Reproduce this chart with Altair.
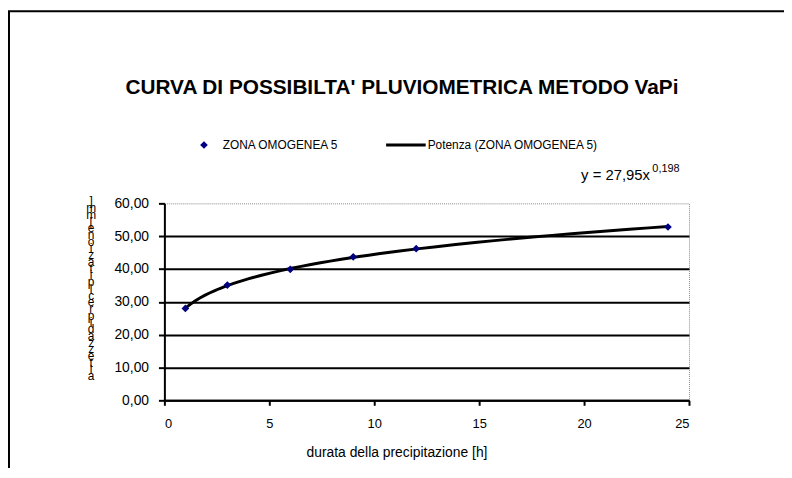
import altair as alt
import pandas as pd

# ---- data ----
durata = [1, 3, 6, 9, 12, 24]
altezza = [28.0, 35.1, 39.9, 43.7, 46.2, 52.8]
serie = "ZONA OMOGENEA 5"
trend_name = "Potenza (ZONA OMOGENEA 5)"
equation = "y = 27,95x"
equation_exp = "0,198"
title_text = "CURVA DI POSSIBILTA' PLUVIOMETRICA METODO VaPi"
x_title = "durata della  precipitazione [h]"
y_title = "altezza di precipitazione [mm]"
x_ticks = [0, 5, 10, 15, 20, 25]
y_ticks = [0, 10, 20, 30, 40, 50, 60]

df = pd.DataFrame({"x": durata, "y": altezza})

W, H = 530, 199
FONT = "Liberation Sans"

xs = alt.Scale(domain=[0, 25], nice=False)
ys = alt.Scale(domain=[0, 60], nice=False)

x_axis = alt.Axis(values=x_ticks, title=None, grid=False, domainColor="black",
                  domainWidth=2, tickColor="black", tickWidth=2, tickSize=5,
                  labelFont=FONT, labelFontSize=13, labelColor="black",
                  labelPadding=12, labelOverlap=False)
y_axis = alt.Axis(values=y_ticks, title=None, grid=True, gridColor="black",
                  gridWidth=2,
                  gridOpacity={"condition": {"test": "datum.value >= 60", "value": 0}, "value": 1},
                  domainColor="black", domainWidth=2, tickColor="black",
                  tickWidth=2, tickSize=6, labelFont=FONT, labelFontSize=14,
                  labelColor="black", labelPadding=10, labelOverlap=False,
                  labelExpr="replace(format(datum.value, '.2f'), '.', ',')")

X = alt.X("x:Q", scale=xs, axis=x_axis)
Y = alt.Y("y:Q", scale=ys, axis=y_axis)

base = alt.Chart(df)

trend = base.transform_regression("x", "y", method="pow", extent=[1, 24]).mark_line(
    color="black", strokeWidth=3
).encode(x=X, y=Y)

points = base.mark_point(shape="diamond", filled=True, color="#000080", size=60, opacity=1).encode(
    x=X, y=Y
)

one = pd.DataFrame({"a": [0]})

def label(text, x, y, size=11, weight="normal", align="left", baseline="middle"):
    return alt.Chart(one).mark_text(
        text=text, font=FONT, fontSize=size, fontWeight=weight, align=align,
        baseline=baseline, color="black"
    ).encode(x=alt.value(x), y=alt.value(y))

title = label(title_text, 240, -116, size=21, weight="bold", align="center")
leg_pt = alt.Chart(one).mark_point(shape="diamond", filled=True, color="#000080", size=60, opacity=1).encode(
    x=alt.value(40), y=alt.value(-59))
leg_t1 = label(serie, 59, -59, size=12)
leg_line = alt.Chart(one).mark_rule(color="black", strokeWidth=3).encode(
    x=alt.value(224), x2=alt.value(264), y=alt.value(-59))
leg_t2 = label(trend_name, 266, -59, size=12)
eq = label(equation, 421, -29, size=15)
eq_exp = label(equation_exp, 493, -35, size=11)
xt = label(x_title, 235, 252, size=14, align="center")

ytitle = alt.Chart(one).mark_text(
    text="\n".join(list(y_title)[::-1]), lineBreak="\n", lineHeight=6.8,
    font=FONT, fontSize=12, align="center", baseline="top", color="black"
).encode(x=alt.value(-74), y=alt.value(-7))

frame = alt.Chart(one).mark_rect(fill=None, stroke="black", strokeWidth=2).encode(
    x=alt.value(-157), y=alt.value(-194), x2=alt.value(W + 200), y2=alt.value(H + 200))

chart = alt.layer(
    frame, trend, points, title, leg_pt, leg_t1, leg_line, leg_t2, eq, eq_exp, xt, ytitle
).properties(
    width=W, height=H,
    autosize=alt.AutoSizeParams(type="none"),
    padding={"left": 158, "top": 195, "right": 96, "bottom": 66},
    background="white",
).configure_view(stroke="#888888", strokeDash=[1, 1], strokeWidth=1)

chart.save("out.html", embed_options={"renderer": "svg", "actions": False})
